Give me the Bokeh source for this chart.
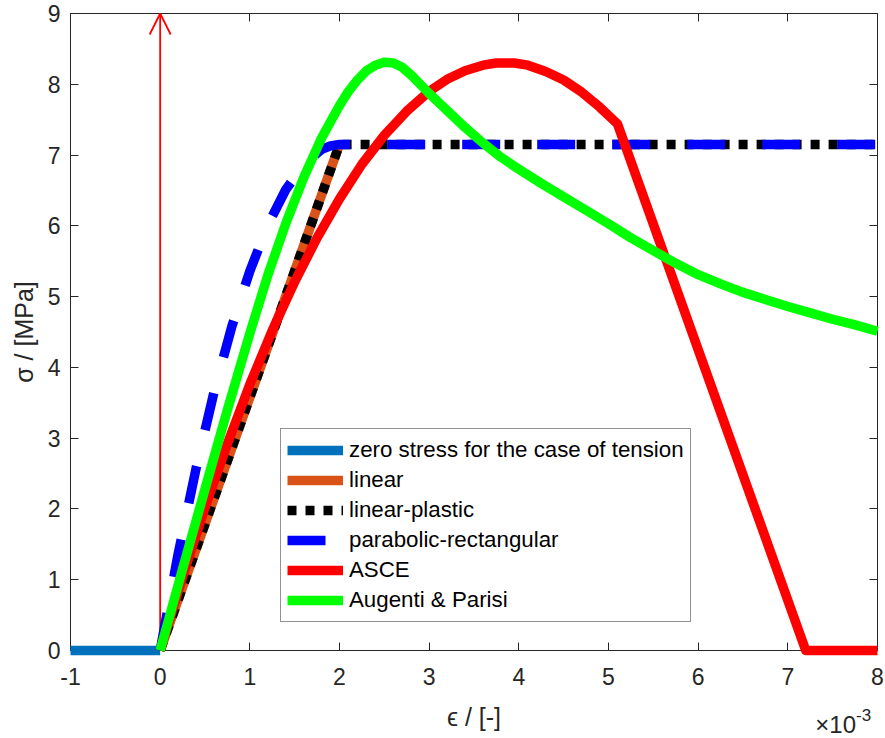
from bokeh.plotting import figure
from bokeh.models import (LinearAxis, FixedTicker, Legend, LegendItem, Arrow,
                          OpenHead, Range1d)
from bokeh.core.properties import value
from bokeh.embed import file_html
from bokeh.resources import INLINE

FONT = "Liberation Sans"
AXIS_COLOR = "#262626"
LW = 9.5

# Strain in units of 1e-3, stress in MPa
tension_strain = [-1.0, 0.0]
tension_stress = [0.0, 0.0]

linear_strain = [0.0, 2.0]
linear_stress = [0.0, 7.15]

linplast_strain = [0.0, 2.0, 8.0]
linplast_stress = [0.0, 7.15, 7.15]

parab_strain = [0.0, 0.2, 0.4, 0.6, 0.8, 1.0, 1.2, 1.4, 1.6, 1.8, 1.9, 2.0, 8.0]
parab_stress = [0.0, 1.36, 2.57, 3.65, 4.58, 5.36, 6.01, 6.51, 6.86, 7.08, 7.13, 7.15, 7.15]

asce_strain = [0.0, 0.25, 0.5, 0.75, 1.0, 1.25, 1.5, 1.75, 2.0, 2.25, 2.5, 2.75,
               3.0, 3.2, 3.4, 3.6, 3.75, 3.85, 3.95, 4.1, 4.3, 4.5, 4.7, 4.9, 5.1, 7.2, 8.0]
asce_stress = [0.0, 1.04, 2.02, 2.92, 3.76, 4.52, 5.21, 5.83, 6.38, 6.87, 7.28, 7.62,
               7.90, 8.07, 8.19, 8.27, 8.30, 8.30, 8.30, 8.27, 8.18, 8.06, 7.89, 7.68, 7.44, 0.0, 0.0]

ap_strain = [0.0, 0.25, 0.5, 0.75, 1.0, 1.2, 1.4, 1.6, 1.8, 2.0, 2.1, 2.2, 2.3, 2.4,
             2.5, 2.6, 2.7, 2.8, 2.9, 3.0, 3.2, 3.4, 3.6, 3.8, 4.0, 4.25, 4.5, 4.75,
             5.0, 5.25, 5.5, 5.75, 6.0, 6.25, 6.5, 6.75, 7.0, 7.25, 7.5, 7.75, 8.0]
ap_stress = [0.0, 1.15, 2.28, 3.40, 4.48, 5.30, 6.03, 6.68, 7.24, 7.70, 7.90, 8.06,
             8.19, 8.27, 8.31, 8.30, 8.24, 8.13, 8.00, 7.87, 7.63, 7.39, 7.17, 6.97,
             6.80, 6.60, 6.41, 6.22, 6.03, 5.83, 5.65, 5.47, 5.31, 5.18, 5.06, 4.96,
             4.86, 4.77, 4.68, 4.60, 4.51]

x_ticks = [-1, 0, 1, 2, 3, 4, 5, 6, 7, 8]
x_tick_labels = ["-1", "0", "1", "2", "3", "4", "5", "6", "7", "8"]
y_ticks = [0, 1, 2, 3, 4, 5, 6, 7, 8, 9]
y_tick_labels = ["0", "1", "2", "3", "4", "5", "6", "7", "8", "9"]

series_labels = ["zero stress for the case of tension", "linear", "linear-plastic",
                 "parabolic-rectangular", "ASCE", "Augenti & Parisi"]

# x-axis scale factor text, placed under the right end of the axis
exp_base = ["\u00d710"]
exp_power = ["-3"]

p = figure(width=885, height=738, x_range=Range1d(-1, 8), y_range=Range1d(0, 9),
           output_backend="svg", toolbar_location=None,
           min_border_left=70, min_border_right=8, min_border_top=13,
           min_border_bottom=88)
p.outline_line_color = None
p.grid.visible = False
p.background_fill_color = "white"
p.border_fill_color = "white"


def style_axis(ax, ticks, labels, show_labels):
    ax.ticker = FixedTicker(ticks=ticks)
    ax.major_label_overrides = {t: l for t, l in zip(ticks, labels)}
    ax.axis_line_color = AXIS_COLOR
    ax.axis_line_width = 1
    ax.major_tick_line_color = AXIS_COLOR
    ax.major_tick_in = 8
    ax.major_tick_out = 0
    ax.minor_tick_line_color = None
    ax.major_label_text_font = FONT
    ax.major_label_text_color = AXIS_COLOR
    if show_labels:
        ax.major_label_text_font_size = "23px"
    else:
        ax.major_label_text_font_size = "0px"
        ax.major_label_text_alpha = 0
        ax.major_label_standoff = 0


xb = p.xaxis[0]
yl = p.yaxis[0]
style_axis(xb, x_ticks, x_tick_labels, True)
style_axis(yl, y_ticks, y_tick_labels, True)
xb.major_label_standoff = 17
yl.major_label_standoff = 10
xb.axis_label = "\u03f5 / [-]"
yl.axis_label = "\u03c3 / [MPa]"
for ax in (xb, yl):
    ax.axis_label_text_font = FONT
    ax.axis_label_text_font_size = "25px"
    ax.axis_label_text_font_style = "normal"
    ax.axis_label_text_color = AXIS_COLOR
xb.axis_label_standoff = 15
yl.axis_label_standoff = 7

xt = LinearAxis()
style_axis(xt, x_ticks, x_tick_labels, False)
p.add_layout(xt, "above")
yr = LinearAxis()
style_axis(yr, y_ticks, y_tick_labels, False)
p.add_layout(yr, "right")

# vertical arrow at zero strain
p.add_layout(Arrow(end=OpenHead(size=21, line_color="#FF0000", line_width=1.8),
                   x_start=0, y_start=0, x_end=0, y_end=9,
                   line_color="#FF0000", line_width=1.8))

common = dict(line_width=LW, line_join="round", line_cap="butt", level="overlay")
r_zero = p.line(tension_strain, tension_stress, line_color="#0072BD", **common)
r_lin = p.line(linear_strain, linear_stress, line_color="#D95319", **common)
r_lp = p.line(linplast_strain, linplast_stress, line_color="#000000",
              line_dash="9 9", **common)
r_par = p.line(parab_strain, parab_stress, line_color="#0000FF",
               line_dash="38 37", **common)
r_asce = p.line(asce_strain, asce_stress, line_color="#FF0000", **common)
r_ap = p.line(ap_strain, ap_stress, line_color="#00FF00", **common)

renderers = [r_zero, r_lin, r_lp, r_par, r_asce, r_ap]
legend = Legend(items=[LegendItem(label=lab, renderers=[r])
                       for lab, r in zip(series_labels, renderers)],
                location=(210, 28))
legend.label_text_font = FONT
legend.label_text_font_size = "22.3px"
legend.label_text_color = "#000000"
legend.glyph_width = 56
legend.glyph_height = 30
legend.label_height = 30
legend.label_standoff = 6
legend.spacing = 0
legend.padding = 6
legend.margin = 0
legend.border_line_color = AXIS_COLOR
legend.border_line_width = 1
legend.background_fill_color = "white"
legend.background_fill_alpha = 1.0
p.add_layout(legend)

# scale factor "x10^-3" drawn as text glyphs so it is not clipped to the frame
p.text(x=[7.76], y=[-1.05], text=exp_base, text_align="right",
       text_baseline="alphabetic", text_font=value(FONT),
       text_font_size="24px", text_color=AXIS_COLOR, level="overlay")
p.text(x=[7.76], y=[-0.91], text=exp_power, text_align="left",
       text_baseline="alphabetic", text_font=value(FONT),
       text_font_size="17px", text_color=AXIS_COLOR, level="overlay")

open("out.html", "w").write(file_html(p, INLINE))
